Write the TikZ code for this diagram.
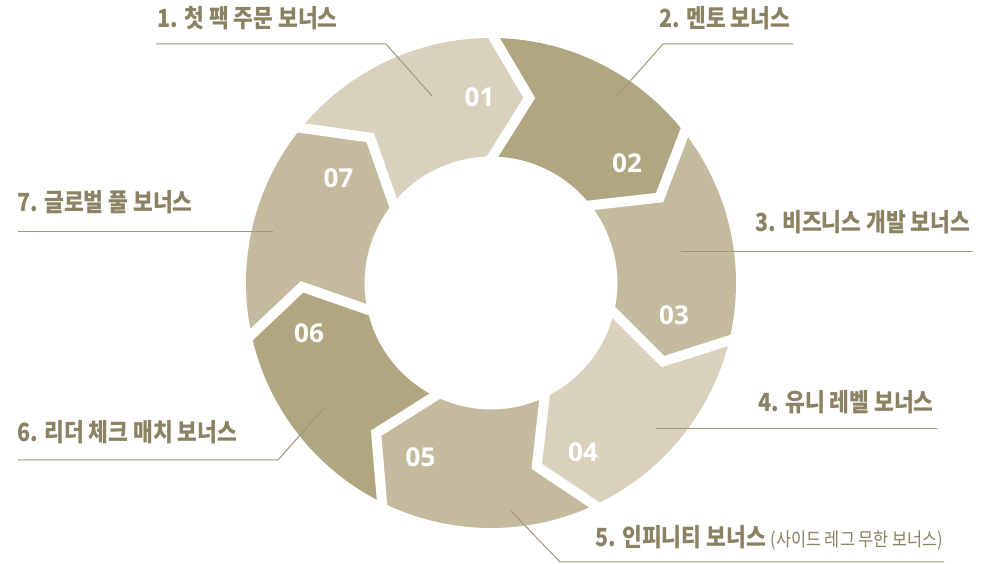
\documentclass[tikz,border=0pt]{standalone}
\usepackage{fontspec}
\newfontfamily\krfont{Noto Sans CJK KR}[FakeStretch=0.86]
\newfontfamily\numfont{Open Sans}
\usetikzlibrary{calc}
\definecolor{segL}{HTML}{DAD1BD}
\definecolor{segM}{HTML}{C4BA9D}
\definecolor{segD}{HTML}{B0A67F}
\definecolor{txtc}{HTML}{8A8262}
\definecolor{leadc}{HTML}{A0977A}
\tikzset{
  lbl/.style={anchor=base west, inner sep=0pt, text=txtc, font=\krfont\bfseries\fontsize{25}{28}\selectfont},
  numlbl/.style={inner sep=0pt, text=white, font=\numfont\bfseries\fontsize{26}{28}\selectfont},
  leader/.style={draw=leadc, line width=1pt},
  gapline/.style={draw=white, line width=10pt, line join=miter},
}
\begin{document}
\begin{tikzpicture}[x=1pt,y=1pt]
\useasboundingbox (0,0) rectangle (990,564);
\fill[white] (0,0) rectangle (990,564);
\def\Ro{245}\def\Ri{126.5}\def\Rt{189}\def\dd{11}
\begin{scope}[shift={(491,281)}]
\foreach \k/\col in {0/segL,1/segD,2/segM,3/segL,4/segM,5/segD,6/segM}{
  \pgfmathsetmacro\sa{140.7286-\k*51.42857}
  \pgfmathsetmacro\ea{\sa-51.42857}
  \pgfmathsetmacro\te{\ea-\dd}
  \pgfmathsetmacro\ts{\sa-\dd}
  \fill[\col] (\sa:\Ro) arc[start angle=\sa, end angle=\ea, radius=\Ro] -- (\te:\Rt) -- (\ea:\Ri) arc[start angle=\ea, end angle=\sa, radius=\Ri] -- (\ts:\Rt) -- cycle;
}
\foreach \k in {0,...,6}{
  \pgfmathsetmacro\ba{89.3-\k*51.42857}
  \pgfmathsetmacro\tb{\ba-\dd}
  \draw[gapline] ($(\tb:\Rt)!1.3!(\ba:\Ro)$) -- (\tb:\Rt) -- ($(\tb:\Rt)!1.3!(\ba:\Ri)$);
}
\end{scope}
% numbers
\node[numlbl] (n1) at (479.5,466.5) {01};
\node[numlbl] (n2) at (627,401) {02};
\node[numlbl] (n3) at (674,248.5) {03};
\node[numlbl] (n4) at (583,112) {04};
\node[numlbl] (n5) at (420.5,106.5) {05};
\node[numlbl] (n6) at (309,230.5) {06};
\node[numlbl] (n7) at (338.5,386) {07};
% leaders
\coordinate (a1) at (156,520); \coordinate (b1) at (386,520); \coordinate (c1) at (432,468);
\coordinate (a2) at (793,520); \coordinate (b2) at (663,520); \coordinate (c2) at (617,468);
\coordinate (a3) at (973,312); \coordinate (c3) at (681,312);
\coordinate (a4) at (937,135); \coordinate (c4) at (656,135);
\coordinate (a5) at (944,2); \coordinate (b5) at (560,2); \coordinate (c5) at (511,53);
\coordinate (a6) at (18,104); \coordinate (b6) at (278,104); \coordinate (c6) at (324,156);
\coordinate (a7) at (18,332); \coordinate (c7) at (273,332);
\draw[leader] (a1) -- (b1) -- (c1);
\draw[leader] (a2) -- (b2) -- (c2);
\draw[leader] (a3) -- (c3);
\draw[leader] (a4) -- (c4);
\draw[leader] (a5) -- (b5) -- (c5);
\draw[leader] (a6) -- (b6) -- (c6);
\draw[leader] (a7) -- (c7);
% labels
\node[lbl] (l1) at (157,536.5) {1. 첫 팩 주문 보너스};
\node[lbl] (l2) at (659,536.5) {2. 멘토 보너스};
\node[lbl] (l3) at (755,332) {3. 비즈니스 개발 보너스};
\node[lbl] (l4) at (758,152) {4. 유니 레벨 보너스};
\node[lbl] (l5) at (595,17) {5. 인피니티 보너스 {\mdseries\fontsize{19}{22}\selectfont(사이드 레그 무한 보너스)}};
\node[lbl] (l6) at (17,122) {6. 리더 체크 매치 보너스};
\node[lbl] (l7) at (17,352) {7. 글로벌 풀 보너스};
\end{tikzpicture}
\end{document}
